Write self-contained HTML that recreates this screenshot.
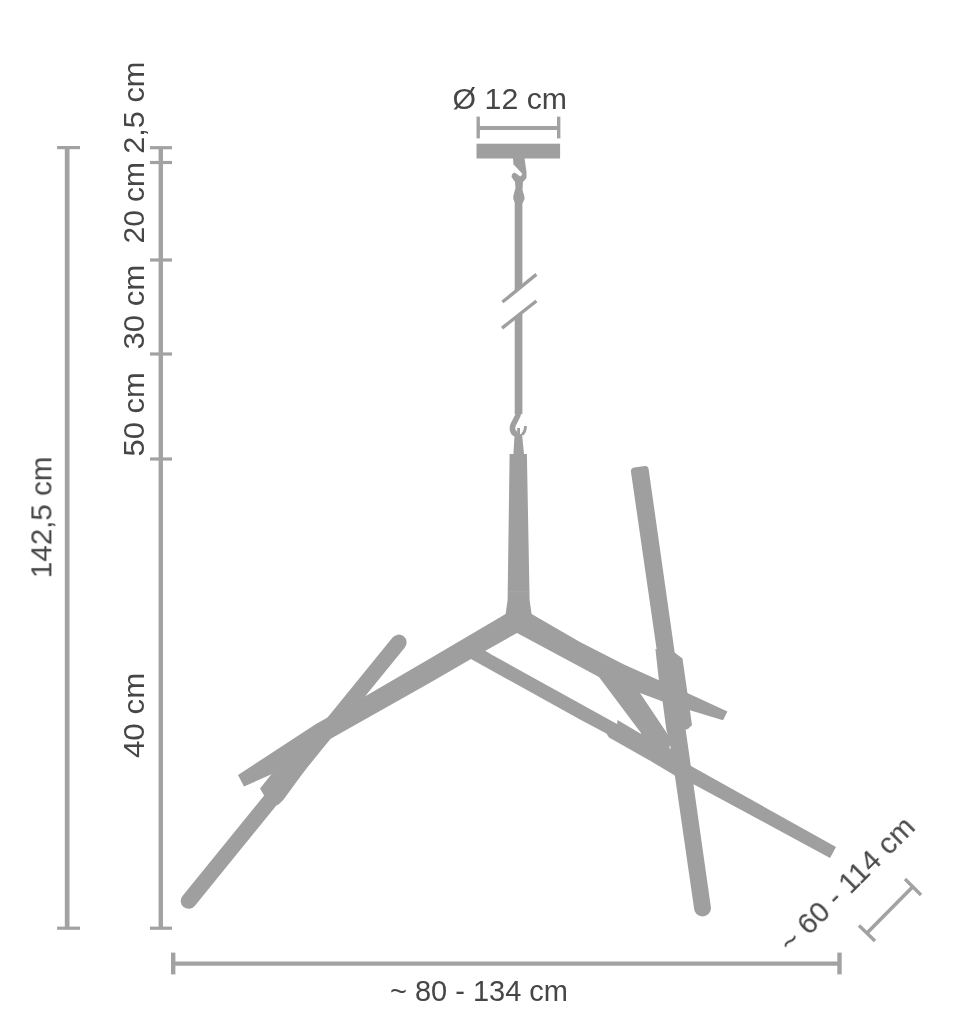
<!DOCTYPE html>
<html lang="en">
<head>
<meta charset="utf-8">
<title>Pendant lamp dimensions</title>
<style>
  html, body { margin: 0; padding: 0; background: #ffffff; }
  body { width: 970px; height: 1010px; overflow: hidden; }
  svg { display: block; filter: blur(0.45px); }
  .dim { stroke: #a2a2a2; fill: none; }
  .lamp { fill: #9f9f9f; stroke: none; }
  .lampline { stroke: #9f9f9f; fill: none; }
  text { font-family: "Liberation Sans", sans-serif; font-size: 29.6px; fill: #464646; }
</style>
</head>
<body>
<svg width="970" height="1010" viewBox="0 0 970 1010">
  <rect x="0" y="0" width="970" height="1010" fill="#ffffff"/>

  <!-- ===== dimension lines ===== -->
  <g class="dim">
    <!-- overall height -->
    <line x1="67.15" y1="147.7" x2="67.15" y2="928.2" stroke-width="4.7"/>
    <line x1="57.1" y1="147.6" x2="80" y2="147.6" stroke-width="3.2"/>
    <line x1="57.1" y1="928.2" x2="80" y2="928.2" stroke-width="3.2"/>
    <!-- segmented height -->
    <line x1="160.8" y1="147.7" x2="160.8" y2="928.2" stroke-width="4.4"/>
    <line x1="150" y1="147.7" x2="172" y2="147.7" stroke-width="3.2"/>
    <line x1="150" y1="162.5" x2="172" y2="162.5" stroke-width="3.2"/>
    <line x1="150" y1="260" x2="172" y2="260" stroke-width="3.2"/>
    <line x1="150" y1="354" x2="172" y2="354" stroke-width="3.2"/>
    <line x1="150" y1="459" x2="172" y2="459" stroke-width="3.2"/>
    <line x1="150" y1="928.2" x2="172" y2="928.2" stroke-width="3.2"/>
    <!-- overall width -->
    <line x1="173.2" y1="963.6" x2="839.5" y2="963.6" stroke-width="4.2"/>
    <line x1="173.2" y1="952.6" x2="173.2" y2="974.4" stroke-width="4.4"/>
    <line x1="839.5" y1="952.6" x2="839.5" y2="974.4" stroke-width="4.4"/>
    <!-- canopy diameter -->
    <line x1="478.2" y1="128" x2="558.7" y2="128" stroke-width="3.8"/>
    <line x1="478.2" y1="116.6" x2="478.2" y2="138.4" stroke-width="3.4"/>
    <line x1="558.7" y1="116.6" x2="558.7" y2="138.4" stroke-width="3.4"/>
    <!-- depth (diagonal) -->
    <line x1="867" y1="933" x2="913" y2="886.5" stroke-width="3.6"/>
    <line x1="859" y1="925.5" x2="875" y2="941" stroke-width="3.4"/>
    <line x1="905" y1="879" x2="921" y2="895" stroke-width="3.4"/>
  </g>

  <!-- ===== lamp silhouette ===== -->
  <g class="lamp">
    <!-- canopy -->
    <rect x="476.5" y="143.7" width="83.6" height="14.8"/>
    <!-- upper hook -->
    <path d="M513,158 L524.5,158 L526.5,172 L526.5,178 L523,182 L522.5,190 L524.5,197 L524.5,199 L522.8,203 L515,203 L513.3,199 L513.3,196 L515.5,188 L515,182 L511.5,177 L512,174 L514,172.5 Z"/>
    <!-- cable -->
    <polygon points="514.7,200 522.4,200 522.4,285.7 514.7,292"/>
    <polygon points="514.7,318 522.4,311.9 522.4,414 514.7,414"/>
    <!-- lower hook stem -->
    <polygon points="514.6,434 522,434 524,454 513.4,454"/>
    <!-- main stem -->
    <polygon points="509.6,454 526.9,454 529.6,600 531.6,614 540,624 517,633 496,624 505.6,614 507.6,600"/>
    <!-- left main arm -->
    <polygon points="505.6,614 430,658.6 364,697 316,724 238,775 244,786.6 272,774 324,742.4 430,682.8 471,659 480,660 490,653.5 485,651 517,633 531,620"/>
    <!-- right main arm -->
    <polygon points="531.6,614 580,642 624,664.6 689,693.8 727.4,711.4 723,720.3 690,710.3 664,702 640,693 599,677 517,633 505,618"/>
    <!-- strut -->
    <polygon points="596,670 642,690 640,693 669.5,737 673,738 680,768 640,748 641,733 599,677"/>
    <!-- lower thin arm -->
    <polygon points="485,651 617,724 617.6,720 642,734.5 691,766 836,847 830,858 764,822.3 694,784.4 690,785 674,775 651,761.3 609,737.4 606.4,733.6 580,719.5 471,659"/>
    <!-- right upright arm -->
    <path d="M631,472 Q630.6,468 634,467.4 L645,466 Q648,465.8 648.6,469 L711,908 A8.5,8.5 0 0 1 694,908 Z"/>
    <!-- upright arm sleeve -->
    <polygon points="674.5,652.5 682.5,658.5 692,725 688,729 680,731 668.8,738 666.4,730 662.4,700 658.6,678 656.3,657 655.4,649"/>
  </g>
  <g class="lampline">
    <!-- cable break marks -->
    <line x1="502.4" y1="302" x2="536.4" y2="274.4" stroke-width="3.4"/>
    <line x1="502" y1="328.2" x2="536.4" y2="301" stroke-width="3.4"/>
    <!-- lower hook -->
    <path d="M518.8,408 L518.6,413 C517.5,419 512.6,423 512.4,428 C512.3,431.5 514,433.5 517,434.5" stroke-width="5.6"/>
    <path d="M518.6,428 L518.6,434 M525.4,426 Q525.6,432 522,434.5" stroke-width="2.8"/>
    <!-- steep left arm -->
    <line x1="188.6" y1="900.9" x2="398.7" y2="642.5" stroke-width="15.8" stroke-linecap="round"/>
  </g>
  <!-- steep arm sleeve bump -->
  <polygon class="lamp" points="265,797 260,788.5 272,773.5 292,760 296,768"/>
  <polygon class="lamp" points="327,740 283.6,799.6 278.6,804.4 274.6,805.8 268,800 310,748"/>
  <!-- upper hook notch -->
  <polygon points="508,165.6 514.4,165.2 522.4,174 520.4,176.4 514.6,172.6 511,174.2 508,174" fill="#ffffff"/>
  <ellipse cx="670" cy="747.4" rx="0.9" ry="1.6" fill="#d4d4d4"/>
  <!-- faint seam on stem -->
  <line x1="508" y1="591.8" x2="529.4" y2="591.8" stroke="#a9a9a9" stroke-width="1"/>

  <!-- ===== labels ===== -->
  <g style="filter: grayscale(1)">
  <text x="452.6" y="109.4" textLength="114.4" lengthAdjust="spacingAndGlyphs">Ø 12 cm</text>
  <text x="390" y="1001.4" textLength="178" lengthAdjust="spacingAndGlyphs">~ 80 - 134 cm</text>
  <text transform="translate(51.4,578.2) rotate(-90)" textLength="121.6" lengthAdjust="spacingAndGlyphs">142,5 cm</text>
  <text transform="translate(144,153.8) rotate(-90)" textLength="92.2" lengthAdjust="spacingAndGlyphs">2,5 cm</text>
  <text transform="translate(144,243.5) rotate(-90)" textLength="81.5" lengthAdjust="spacingAndGlyphs">20 cm</text>
  <text transform="translate(144,349.6) rotate(-90)" textLength="84.8" lengthAdjust="spacingAndGlyphs">30 cm</text>
  <text transform="translate(144,456.6) rotate(-90)" textLength="84.4" lengthAdjust="spacingAndGlyphs">50 cm</text>
  <text transform="translate(144,758.1) rotate(-90)" textLength="85.4" lengthAdjust="spacingAndGlyphs">40 cm</text>
  <text transform="translate(791.1,954.3) rotate(-45)" textLength="177.5" lengthAdjust="spacingAndGlyphs">~ 60 - 114 cm</text>
  </g>
</svg>
</body>
</html>
